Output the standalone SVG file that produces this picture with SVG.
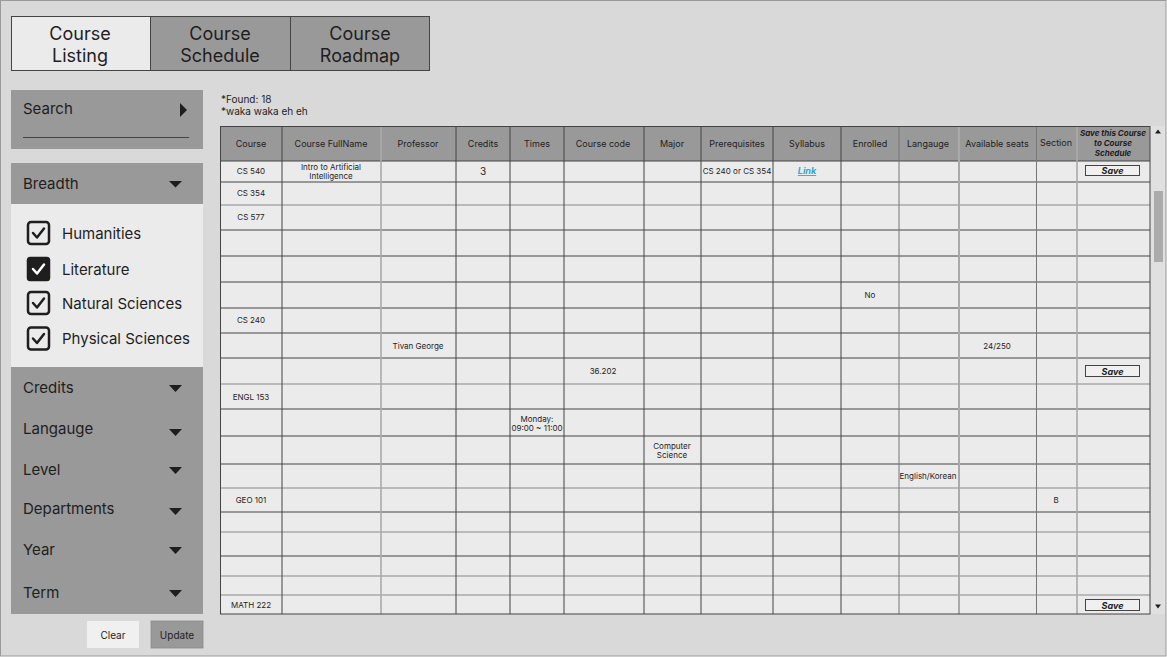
<svg xmlns="http://www.w3.org/2000/svg" width="1167" height="657" viewBox="0 0 1167 657">
<style>
text{font-family:Inter,"Noto Sans","Liberation Sans",sans-serif;fill:#1e1e1e}
.tab{font-size:18px;text-anchor:middle}
.lab{font-size:15px}
.hd{font-size:9px;text-anchor:middle}
.cell{font-size:8px;text-anchor:middle}
.sv{font-size:9px;font-style:italic;font-weight:bold;text-anchor:middle}
.hl{stroke:#444;stroke-width:1}
.hg{stroke:#aaa;stroke-width:1.6}
.pan{fill:#999}
.cb{fill:none;stroke:#1e1e1e;stroke-width:2.5}
.ck{fill:none;stroke:#1e1e1e;stroke-width:2.5;stroke-linecap:round;stroke-linejoin:round}
.tri{fill:#1e1e1e}
.btn{fill:#f0f0f0;stroke:#444;stroke-width:1}
</style>
<rect x="0.5" y="0.5" width="1165.5" height="655.5" fill="#d9d9d9" stroke="#9a9a9a"/>

<g id="tabs">
<rect x="11.5" y="16.5" width="139" height="54" fill="#ebebeb" stroke="#444"/>
<rect x="150.5" y="16.5" width="140" height="54" fill="#999" stroke="#444"/>
<rect x="290.5" y="16.5" width="139" height="54" fill="#999" stroke="#444"/>
<text class="tab" x="80" y="40">Course</text><text class="tab" x="80" y="62">Listing</text>
<text class="tab" x="220" y="40">Course</text><text class="tab" x="220" y="62">Schedule</text>
<text class="tab" x="360" y="40">Course</text><text class="tab" x="360" y="62">Roadmap</text>
</g>

<g id="search">
<rect class="pan" x="11" y="90" width="192" height="59"/>
<text class="lab" x="23" y="114">Search</text>
<polygon class="tri" points="180,103 187,110 180,117"/>
<line x1="23" y1="137.5" x2="189" y2="137.5" stroke="#444" stroke-width="1"/>
</g>

<g id="breadth">
<rect class="pan" x="11" y="163" width="192" height="41"/>
<rect x="11" y="204" width="192" height="163" fill="#ebebeb"/>
<text class="lab" x="23" y="189">Breadth</text>
<polygon class="tri" points="169,181 182,181 175.5,187.5"/>
<rect class="cb" x="28" y="222" width="21" height="22" rx="3"/>
<path class="ck" d="M33,233 L37,237.5 L44,228.5"/>
<text class="lab" x="62" y="239">Humanities</text>
<rect x="26.75" y="256.75" width="23.5" height="24.5" rx="3.5" fill="#1e1e1e"/>
<path class="ck" style="stroke:#fff" d="M33,269 L37,273.5 L44,264.5"/>
<text class="lab" x="62" y="275">Literature</text>
<rect class="cb" x="28" y="292" width="21" height="22" rx="3"/>
<path class="ck" d="M33,303 L37,307.5 L44,298.5"/>
<text class="lab" x="62" y="309">Natural Sciences</text>
<rect class="cb" x="28" y="327.5" width="21" height="22" rx="3"/>
<path class="ck" d="M33,338.5 L37,343 L44,334"/>
<text class="lab" x="62" y="344">Physical Sciences</text>
</g>

<g id="filters">
<rect class="pan" x="11" y="367" width="192" height="247"/>
<text class="lab" x="23" y="393">Credits</text>
<polygon class="tri" points="169,385 182,385 175.5,392"/>
<text class="lab" x="23" y="434">Langauge</text>
<polygon class="tri" points="169,429 182,429 175.5,436"/>
<text class="lab" x="23" y="475">Level</text>
<polygon class="tri" points="169,467 182,467 175.5,474"/>
<text class="lab" x="23" y="514">Departments</text>
<polygon class="tri" points="169,508 182,508 175.5,515"/>
<text class="lab" x="23" y="555">Year</text>
<polygon class="tri" points="169,547 182,547 175.5,554"/>
<text class="lab" x="23" y="598">Term</text>
<polygon class="tri" points="169,590 182,590 175.5,597"/>
</g>

<g id="clear">
<rect x="87" y="621" width="52" height="27" fill="#f0f0f0"/>
<text x="113" y="638.5" font-size="10" text-anchor="middle">Clear</text>
</g>
<g id="update">
<rect x="151" y="621" width="52" height="27" fill="#999" stroke="#8a8a8a" stroke-width="0.8"/>
<text x="177" y="638.5" font-size="10" text-anchor="middle">Update</text>
</g>

<g id="found">
<text x="221" y="103" font-size="10">*Found: 18</text>
<text x="221" y="115" font-size="10">*waka waka eh eh</text>
</g>

<g id="table">
<rect x="220" y="126" width="930" height="35" fill="#999"/>
<rect x="220" y="161" width="930" height="453" fill="#ebebeb"/>
<rect x="1150" y="126" width="15" height="488" fill="#e0e0e0"/>
<rect x="1154" y="191" width="9" height="71" fill="#ababab"/>
<polygon class="tri" points="1155,133.5 1161,133.5 1158,129.5"/>
<polygon class="tri" points="1155,604.5 1161,604.5 1158,608.5"/>
<g id="grid">
<line class="hl" x1="220" y1="161" x2="1150" y2="161"/>
<line class="hl" x1="220" y1="182" x2="1150" y2="182"/>
<line class="hg" x1="220" y1="205" x2="1150" y2="205"/>
<line class="hl" x1="220" y1="230" x2="1150" y2="230"/>
<line class="hl" x1="220" y1="256" x2="1150" y2="256"/>
<line class="hl" x1="220" y1="282" x2="1150" y2="282"/>
<line class="hl" x1="220" y1="308" x2="1150" y2="308"/>
<line class="hl" x1="220" y1="333" x2="1150" y2="333"/>
<line class="hl" x1="220" y1="358" x2="1150" y2="358"/>
<line class="hg" x1="220" y1="384" x2="1150" y2="384"/>
<line class="hl" x1="220" y1="409" x2="1150" y2="409"/>
<line class="hl" x1="220" y1="436" x2="1150" y2="436"/>
<line class="hl" x1="220" y1="464" x2="1150" y2="464"/>
<line class="hg" x1="220" y1="488" x2="1150" y2="488"/>
<line class="hl" x1="220" y1="512" x2="1150" y2="512"/>
<line class="hg" x1="220" y1="532" x2="1150" y2="532"/>
<line class="hl" x1="220" y1="556" x2="1150" y2="556"/>
<line class="hg" x1="220" y1="576" x2="1150" y2="576"/>
<line class="hg" x1="220" y1="595" x2="1150" y2="595"/>
<line class="hl" x1="282" y1="126" x2="282" y2="614"/>
<line class="hg" x1="381" y1="126" x2="381" y2="614"/>
<line class="hl" x1="456" y1="126" x2="456" y2="614"/>
<line class="hl" x1="510" y1="126" x2="510" y2="614"/>
<line class="hl" x1="564" y1="126" x2="564" y2="614"/>
<line class="hl" x1="644" y1="126" x2="644" y2="614"/>
<line class="hl" x1="701" y1="126" x2="701" y2="614"/>
<line class="hl" x1="773" y1="126" x2="773" y2="614"/>
<line class="hl" x1="841" y1="126" x2="841" y2="614"/>
<line class="hl" x1="899" y1="126" x2="899" y2="614" style="stroke:#777"/>
<line class="hg" x1="959" y1="126" x2="959" y2="614" style="stroke-width:2"/>
<line class="hl" x1="1036.5" y1="126" x2="1036.5" y2="614" style="stroke:#777"/>
<line class="hg" x1="1077" y1="126" x2="1077" y2="614"/>
<rect x="220.5" y="126.5" width="929.5" height="487.5" fill="none" stroke="#444"/>
</g>
<g id="header">
<text class="hd" x="251" y="147">Course</text>
<text class="hd" x="331" y="147">Course FullName</text>
<text class="hd" x="418" y="147">Professor</text>
<text class="hd" x="483" y="147">Credits</text>
<text class="hd" x="537" y="147">Times</text>
<text class="hd" x="603" y="147">Course code</text>
<text class="hd" x="672" y="147">Major</text>
<text class="hd" x="737" y="147">Prerequisites</text>
<text class="hd" x="807" y="147">Syllabus</text>
<text class="hd" x="870" y="147">Enrolled</text>
<text class="hd" x="928" y="147">Langauge</text>
<text class="hd" x="997" y="147">Available seats</text>
<text class="hd" x="1056" y="146">Section</text>
<text class="sv" x="1113" y="136" style="font-size:8px">Save this Course</text>
<text class="sv" x="1113" y="146" style="font-size:8px">to Course</text>
<text class="sv" x="1113" y="156" style="font-size:8px">Schedule</text>
</g>
<g id="cells">
<text class="cell" x="251" y="174">CS 540</text>
<text class="cell" x="331" y="170">Intro to Artificial</text>
<text class="cell" x="331" y="179">Intelligence</text>
<text class="cell" x="483" y="175" style="font-size:10px">3</text>
<text class="cell" x="737" y="174">CS 240 or CS 354</text>
<text class="sv" x="807" y="174" style="fill:#29a8e0;text-decoration:underline">Link</text>
<text class="cell" x="251" y="196">CS 354</text>
<text class="cell" x="251" y="220">CS 577</text>
<text class="cell" x="870" y="298">No</text>
<text class="cell" x="251" y="323">CS 240</text>
<text class="cell" x="418" y="349">Tivan George</text>
<text class="cell" x="997" y="349">24/250</text>
<text class="cell" x="603" y="374">36.202</text>
<text class="cell" x="251" y="400">ENGL 153</text>
<text class="cell" x="537" y="422">Monday:</text>
<text class="cell" x="537" y="431">09:00 ~ 11:00</text>
<text class="cell" x="672" y="449">Computer</text>
<text class="cell" x="672" y="458">Science</text>
<text class="cell" x="928" y="479">English/Korean</text>
<text class="cell" x="251" y="503">GEO 101</text>
<text class="cell" x="1056" y="503">B</text>
<text class="cell" x="251" y="608">MATH 222</text>
</g>
<g id="save-buttons">
<rect class="btn" x="1085.5" y="165.5" width="54" height="10"/>
<text class="sv" x="1112.5" y="174">Save</text>
<rect class="btn" x="1085.5" y="365.5" width="54" height="11"/>
<text class="sv" x="1112.5" y="374.5">Save</text>
<rect class="btn" x="1085.5" y="599.5" width="54" height="11"/>
<text class="sv" x="1112.5" y="608.5">Save</text>
</g>
</g>
</svg>
